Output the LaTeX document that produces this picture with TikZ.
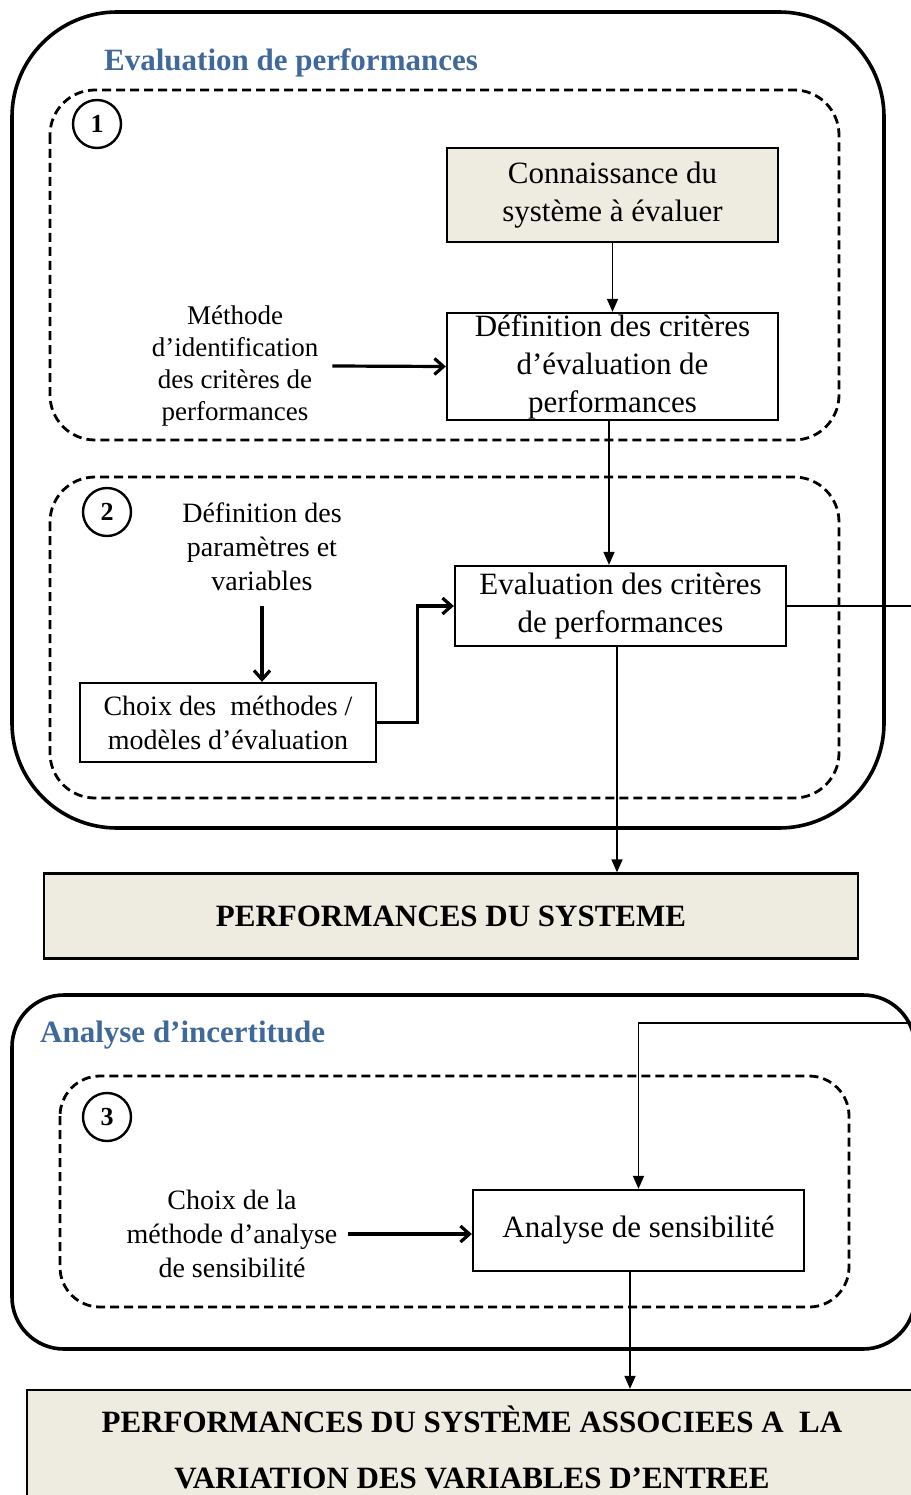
\documentclass[tikz,border=0pt]{standalone}
\usepackage{fontspec}
\setmainfont{Liberation Serif}
\usetikzlibrary{arrows.meta}
\definecolor{titre}{RGB}{63,104,155}
\definecolor{beige}{RGB}{238,236,225}
\tikzstyle{bloc}=[draw, line width=2.3pt, inner sep=0pt, align=center, font=\fontsize{31}{38}\selectfont]
\tikzstyle{texte}=[align=center, inner sep=0pt]
\tikzstyle{cadre}=[draw, line width=3.6pt, rounded corners=105pt]
\tikzstyle{etape}=[draw, line width=2.8pt, dash pattern=on 9pt off 5pt, rounded corners=45pt]
\tikzstyle{numero}=[circle, draw, line width=2.4pt, minimum size=48pt, inner sep=0pt, font=\fontsize{26}{26}\selectfont\bfseries]
\tikzstyle{fleche}=[-{Triangle[length=13pt,width=11pt]}, line width=1.6pt]
\tikzstyle{grosse}=[-{Straight Barb[length=9pt,width=16pt]}, line width=3.2pt]

\begin{document}
\begin{tikzpicture}[x=1pt, y=-1pt]
\useasboundingbox (0,0) rectangle (910,1495);
% cadres
\draw[cadre] (12,12) rectangle (884,828);
\draw[cadre, rounded corners=52pt] (12,995) rectangle (915,1349);
\draw[etape] (50,90) rectangle (839,440);
\draw[etape] (50,477) rectangle (839,798);
\draw[etape, rounded corners=40pt] (60,1076) rectangle (849,1307);
\node[texte, anchor=west, text=titre, font=\fontsize{31}{38}\selectfont\bfseries] (titre1) at (104,63) {Evaluation de performances};
\node[texte, anchor=west, text=titre, font=\fontsize{31}{38}\selectfont\bfseries] (titre2) at (40,1035) {Analyse d’incertitude};
\node[numero] (n1) at (97,124) {1};
\node[numero] (n2) at (107,512) {2};
\node[numero] (n3) at (107,1117) {3};
% blocs
\node[bloc, fill=beige, minimum width=331pt, minimum height=94pt] (connaissance) at (612.5,195) {Connaissance du\\système à évaluer};
\node[bloc, minimum width=331pt, minimum height=107pt, inner ysep=-3pt] (definition) at (612.5,366.5) {Définition des critères\\d’évaluation de\\performances};
\node[bloc, minimum width=331pt, minimum height=80pt] (evaluation) at (620.5,606) {Evaluation des critères\\de performances};
\node[bloc, font=\fontsize{28}{34}\selectfont, minimum width=296pt, minimum height=79pt] (choix) at (228,722.5) {Choix des\ \ méthodes /\\modèles d’évaluation};
\node[bloc, fill=beige, font=\fontsize{31}{38}\selectfont\bfseries, minimum width=814pt, minimum height=85pt] (perf) at (451,916) {PERFORMANCES DU SYSTEME};
\node[bloc, minimum width=331pt, minimum height=81pt] (sensibilite) at (638.5,1230.5) {Analyse de sensibilité};
\node[bloc, fill=beige, font=\fontsize{31}{56}\selectfont\bfseries, minimum width=890pt, minimum height=114pt] (resultat) at (472,1447) {PERFORMANCES DU SYSTÈME ASSOCIEES A\ \ LA\\VARIATION DES VARIABLES D’ENTREE};
% textes libres
\node[texte, font=\fontsize{27}{32}\selectfont] (methode) at (235,366) {Méthode\\d’identification\\des critères de\\performances};
\node[texte, font=\fontsize{28}{34}\selectfont] (parametres) at (262,547) {Définition des\\paramètres et\\variables};
\node[texte, font=\fontsize{28}{34}\selectfont] (choixsens) at (232,1234) {Choix de la\\méthode d’analyse\\de sensibilité};
\coordinate (detour) at (960,1023);
% liaisons
\draw[fleche] (connaissance) -- (definition);
\draw[grosse] ([xshift=14pt]methode.east) -- (definition.west);
\draw[fleche] ([xshift=-3.5pt]definition.south) -- ([xshift=-3.5pt]definition.south |- evaluation.north);
\draw[grosse] ([yshift=-15pt]parametres.south) -- (parametres.south |- choix.north);
\draw[grosse] (choix.east) -- ++(40,0) |- (evaluation.west);
\draw[fleche] ([xshift=-3.5pt]evaluation.south) -- ([xshift=-3.5pt]evaluation.south |- perf.north);
\draw[fleche] (evaluation.east) -| (detour) -| (sensibilite.north);
\draw[grosse] ([xshift=10pt]choixsens.east) -- (choixsens.east -| sensibilite.west);
\draw[fleche] ([xshift=-8.5pt]sensibilite.south) -- ([xshift=-8.5pt]sensibilite.south |- resultat.north);
\end{tikzpicture}
\end{document}
